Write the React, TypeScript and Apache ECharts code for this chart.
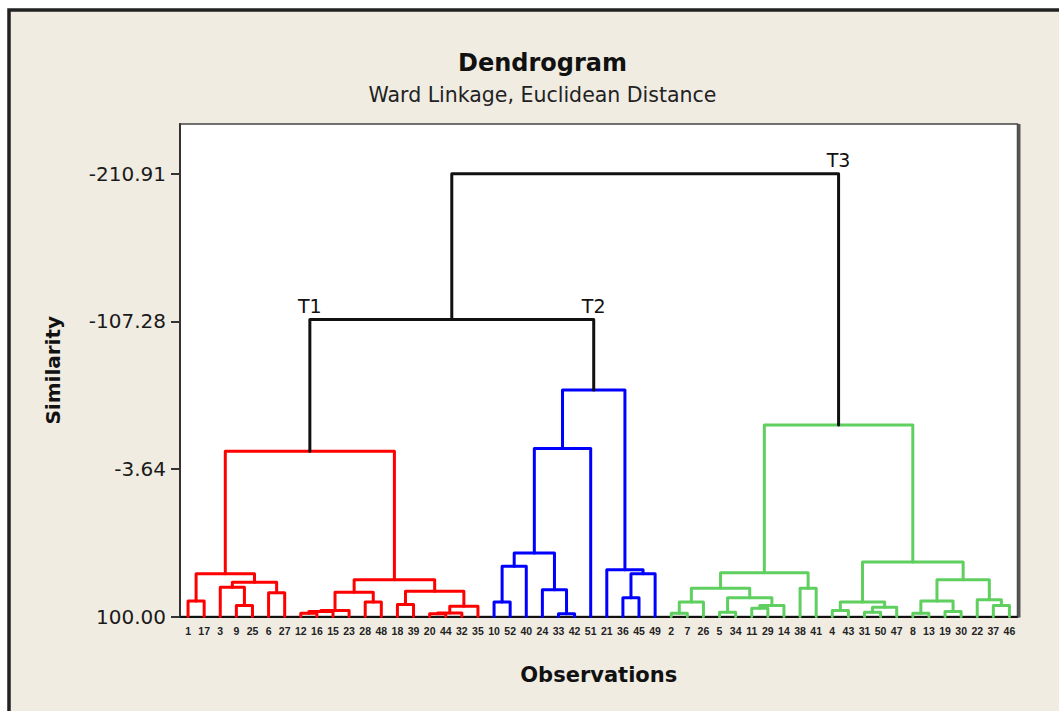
import React, { useEffect, useRef } from "react";
import * as echarts from "echarts";

// ---------- data ----------
const leafOrder = [
  1, 17, 3, 9, 25, 6, 27, 12, 16, 15, 23, 28, 48, 18, 39, 20, 44, 32, 35,
  10, 52, 40, 24, 33, 42, 51, 21, 36, 45, 49,
  2, 7, 26, 5, 34, 11, 29, 14, 38, 41, 4, 43, 31, 50, 47, 8, 13, 19, 30, 22, 37, 46,
];

const leafSimilarity = 100;
const yTicks = [100, -3.64, -107.28, -210.91];

// [id, left child, right child, similarity]; numeric children are observations
type Merge = [string, number | string, number | string, number];

const redMerges: Merge[] = [
  ["r1", 1, 17, 89.2],
  ["r2", 9, 25, 92.3],
  ["r3", 3, "r2", 79.4],
  ["r4", 6, 27, 83.3],
  ["r5", "r3", "r4", 75.9],
  ["r6", "r1", "r5", 70.0],
  ["r7", 12, 16, 97.7],
  ["r8", "r7", 15, 96.5],
  ["r9", "r8", 23, 95.8],
  ["r10", 28, 48, 89.9],
  ["r11", "r9", "r10", 82.9],
  ["r12", 18, 39, 91.6],
  ["r13", 20, 44, 98.1],
  ["r14", "r13", 32, 97.5],
  ["r15", "r14", 35, 92.8],
  ["r16", "r12", "r15", 82.2],
  ["r17", "r11", "r16", 74.2],
  ["R", "r6", "r17", -16.1],
];

const blueMerges: Merge[] = [
  ["b1", 10, 52, 89.9],
  ["b2", "b1", 40, 64.8],
  ["b3", 33, 42, 98.1],
  ["b4", 24, "b3", 81.2],
  ["b5", "b2", "b4", 55.5],
  ["b6", "b5", 51, -18.0],
  ["b7", 36, 45, 86.8],
  ["b8", "b7", 49, 70.0],
  ["b9", 21, "b8", 67.1],
  ["B", "b6", "b9", -59.0],
];

const greenMerges: Merge[] = [
  ["g1", 2, 7, 97.7],
  ["g2", "g1", 26, 89.9],
  ["g3", 5, 34, 97.0],
  ["g4", 11, 29, 94.2],
  ["g5", "g4", 14, 92.3],
  ["g6", "g3", "g5", 86.8],
  ["g7", "g2", "g6", 80.1],
  ["g8", 38, 41, 80.1],
  ["g9", "g7", "g8", 69.3],
  ["g10", 4, 43, 95.8],
  ["g11", 31, 50, 97.0],
  ["g12", "g11", 47, 93.5],
  ["g13", "g10", "g12", 89.9],
  ["g14", 8, 13, 97.7],
  ["g15", 19, 30, 96.5],
  ["g16", "g14", "g15", 89.2],
  ["g17", 37, 46, 92.3],
  ["g18", 22, "g17", 88.3],
  ["g19", "g16", "g18", 74.2],
  ["g20", "g13", "g19", 61.8],
  ["G", "g9", "g20", -34.4],
];

const topMerges: Merge[] = [
  ["T1", "R", "B", -108.6],
  ["root", "T1", "G", -210.91],
];

// cluster labels: [text, cluster node]
const clusterLabels: [string, string][] = [
  ["T1", "R"],
  ["T2", "B"],
  ["T3", "G"],
];

const groupColors = {
  red: "#FF0000",
  blue: "#0000FF",
  green: "#5FCF5F",
  top: "#111111",
};

// ---------- layout ----------
const GRID = { left: 180, top: 124, width: 837.5, height: 492.5 };
const FONT = "DejaVu Sans";

// ---------- tree geometry (in data units) ----------
const allMerges = [...redMerges, ...blueMerges, ...greenMerges, ...topMerges];
const nodePos: Record<string, [number, number]> = {};
leafOrder.forEach((obs, i) => {
  nodePos[String(obs)] = [i, leafSimilarity];
});
allMerges.forEach(([id, l, r, s]) => {
  const a = nodePos[String(l)];
  const b = nodePos[String(r)];
  nodePos[id] = [(a[0] + b[0]) / 2, s];
});
const linkData = (ms: Merge[]) =>
  ms.map(([id, l, r]) => {
    const a = nodePos[String(l)];
    const b = nodePos[String(r)];
    return [a[0], a[1], b[0], b[1], nodePos[id][1]];
  });

const parentHeight = (node: string) => {
  const m = allMerges.find(([, l, r]) => String(l) === node || String(r) === node);
  return m ? m[3] : nodePos[node][1];
};
const labelData = clusterLabels.map(([, node]) => [nodePos[node][0], parentHeight(node)]);

export default function App() {
  const ref = useRef<HTMLDivElement>(null);

  useEffect(() => {
    document.body.style.margin = "0";
    if (!ref.current) return;
    const chart = echarts.init(ref.current, undefined, { renderer: "svg" });

    const linkSeries = (name: string, ms: Merge[], color: string) => ({
      type: "custom",
      name,
      xAxisIndex: 1,
      yAxisIndex: 0,
      encode: { x: [0, 2], y: [1, 3, 4] },
      data: linkData(ms),
      renderItem: (_p: any, api: any) => {
        const lx = api.value(0), ly = api.value(1), rx = api.value(2), ry = api.value(3), my = api.value(4);
        const pts = [
          api.coord([lx, ly]),
          api.coord([lx, my]),
          api.coord([rx, my]),
          api.coord([rx, ry]),
        ];
        return {
          type: "polyline",
          shape: { points: pts },
          style: { stroke: color, lineWidth: 3, fill: "none", lineJoin: "round", lineCap: "round" },
        };
      },
      silent: true,
    });

    const option: any = {
      animation: false,
      backgroundColor: "#FFFFFF",
      title: {
        text: "Dendrogram",
        subtext: "Ward Linkage, Euclidean Distance",
        left: 537.5,
        textAlign: "center",
        top: 46,
        itemGap: 9,
        textStyle: { fontFamily: FONT, fontWeight: "bold", fontSize: 24, color: "#111" },
        subtextStyle: { fontFamily: FONT, fontSize: 20.5, color: "#222" },
      },
      graphic: [
        {
          type: "rect",
          z: -100,
          shape: { x: 9, y: 10, width: 1120, height: 800 },
          style: { fill: "#F0ECE2", stroke: "#222", lineWidth: 3.5 },
        },
        {
          type: "rect",
          z: -50,
          shape: { x: GRID.left, y: GRID.top, width: GRID.width, height: GRID.height },
          style: { fill: "#FFFFFF", stroke: "#444", lineWidth: 1.5 },
        },
        {
          type: "line",
          z: 10,
          shape: { x1: GRID.left + GRID.width + 1.5, y1: GRID.top, x2: GRID.left + GRID.width + 1.5, y2: GRID.top + GRID.height + 1 },
          style: { stroke: "#555", lineWidth: 3 },
        },
      ],
      grid: { ...GRID, containLabel: false },
      xAxis: [
        {
          type: "category",
          data: leafOrder.map(String),
          boundaryGap: true,
          axisLine: { onZero: false, lineStyle: { color: "#111", width: 2 } },
          axisTick: { alignWithLabel: true, interval: 0, length: 6, lineStyle: { color: "#111", width: 2 } },
          axisLabel: {
            interval: 0,
            fontSize: 10.5,
            fontWeight: "bold",
            fontFamily: "Liberation Sans",
            color: "#222",
            margin: 9,
          },
          name: "Observations",
          nameLocation: "middle",
          nameGap: 48,
          nameTextStyle: { fontFamily: FONT, fontWeight: "bold", fontSize: 21, color: "#111" },
        },
        {
          type: "value",
          min: -0.5,
          max: leafOrder.length - 0.5,
          show: false,
        },
      ],
      yAxis: {
        type: "value",
        inverse: true,
        min: -245.8,
        max: 100,
        axisLine: { show: true, onZero: false, lineStyle: { color: "#333", width: 2 } },
        axisTick: { show: true, customValues: yTicks, length: 9, lineStyle: { color: "#333", width: 2 } },
        axisLabel: {
          customValues: yTicks,
          formatter: (v: number) => v.toFixed(2),
          margin: 14,
          fontSize: 20,
          fontFamily: FONT,
          color: "#1a1a1a",
        },
        splitLine: { show: false },
        name: "Similarity",
        nameLocation: "middle",
        nameGap: 117,
        nameTextStyle: { fontFamily: FONT, fontWeight: "bold", fontSize: 20, color: "#111" },
      },
      series: [
        linkSeries("Cluster 1", redMerges, groupColors.red),
        linkSeries("Cluster 2", blueMerges, groupColors.blue),
        linkSeries("Cluster 3", greenMerges, groupColors.green),
        linkSeries("Joins", topMerges, groupColors.top),
        {
          type: "custom",
          name: "Cluster labels",
          xAxisIndex: 1,
          yAxisIndex: 0,
          encode: { x: 0, y: 1 },
          data: labelData,
          silent: true,
          renderItem: (p: any, api: any) => {
            const pt = api.coord([api.value(0), api.value(1)]);
            return {
              type: "text",
              x: pt[0],
              y: pt[1] - 4,
              style: {
                text: clusterLabels[p.dataIndex][0],
                fontSize: 19,
                fontFamily: FONT,
                fill: "#111",
                align: "center",
                verticalAlign: "bottom",
              },
            };
          },
        },
      ],
    };

    chart.setOption(option);
    return () => chart.dispose();
  }, []);

  return <div ref={ref} style={{ width: 1059, height: 711 }} />;
}
